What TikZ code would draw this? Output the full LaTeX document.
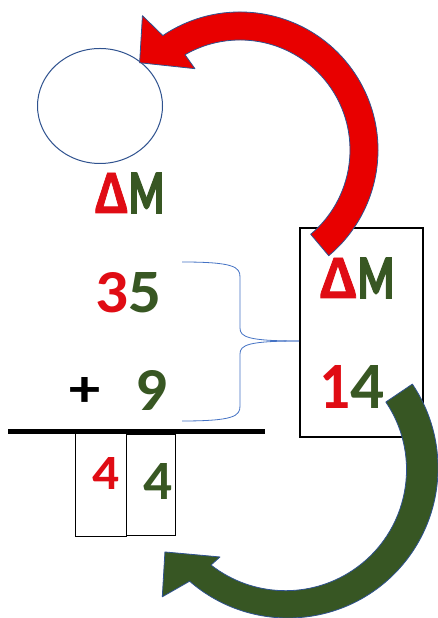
\documentclass[tikz,border=0pt]{standalone}
\usepackage{fontspec}
\setmainfont{Carlito}
\newfontface\fatface[FakeBold=3]{Carlito Bold}
\newfontface\semifat[FakeBold=1.2]{Carlito Bold}
\usepackage{graphicx}
\usetikzlibrary{shapes.geometric}
\definecolor{tred}{RGB}{224,12,20}
\definecolor{tgreen}{RGB}{56,87,35}
\definecolor{ared}{RGB}{232,0,0}
\definecolor{agreen}{RGB}{55,86,35}
\definecolor{edgeblue}{RGB}{47,82,143}
\definecolor{braceblue}{RGB}{68,114,196}
\newcommand\myglyph[4]{\resizebox{#1pt}{#2pt}{\textcolor{#3}{\bfseries #4}}}
\newcommand\fatglyph[4]{\resizebox{#1pt}{#2pt}{\textcolor{#3}{\fatface #4}}}
\newcommand\semiglyph[4]{\resizebox{#1pt}{#2pt}{\textcolor{#3}{\semifat #4}}}
\begin{document}
\begin{tikzpicture}[x=1pt,y=1pt,
  glyph/.style={inner sep=0pt, outer sep=0pt},
  frame/.style={draw=black, inner sep=0pt},
  bigarrow/.style={draw=edgeblue, line width=0.8pt, line join=round}]
\useasboundingbox (0,0) rectangle (438,618);
\fill[white] (0,0) rectangle (438,618);

% circle
\node[draw=edgeblue, line width=1pt, ellipse, minimum width=125pt, minimum height=115pt, inner sep=0pt] (circ) at (100,512) {};

% right box
\node[frame, line width=1.6pt, minimum width=123pt, minimum height=209pt] (dmbox) at (361.5,285.5) {};

% bar and result boxes
\coordinate (barL) at (8,186);
\coordinate (barR) at (265,186);
\draw[line width=5pt] (barL) -- (barR);
\node[frame, line width=1pt, minimum width=51pt, minimum height=105pt] (b1) at (100.5,133.5) {};
\node[frame, line width=1pt, minimum width=49pt, minimum height=104pt] (b2) at (150.5,134) {};
\fill[black] (b2.north west) rectangle ([yshift=-4pt]b2.north east);

% brace
\coordinate (brTop) at (182,356);
\coordinate (brBot) at (182,197);
\coordinate (brTip) at (dmbox.west |- 0,277);
\draw[braceblue, line width=0.8pt]
  (brTop) .. controls (234,356) and (240,351) .. (240,341) -- (240,290)
  .. controls (240,281) and (248,277) .. (brTip);
\draw[braceblue, line width=0.8pt]
  (brBot) .. controls (234,197) and (240,202) .. (240,212) -- (240,264)
  .. controls (240,273) and (248,277) .. (brTip);

% texts
\node[glyph] (dm1) at (129.5,425) {\semiglyph{34}{40}{tred}{Δ}\fatglyph{35}{40}{tgreen}{M}};
\node[glyph] (dm2) at (357,340) {\semiglyph{38}{40}{tred}{Δ}\fatglyph{36}{40}{tgreen}{M}};
\node[glyph] (n35) at (129,325) {\myglyph{33}{40}{tred}{3}\myglyph{33}{40}{tgreen}{5}};
\node[glyph] (n14) at (352.5,231.5) {\myglyph{31}{43}{tred}{1}\myglyph{34}{43}{tgreen}{4}};
\node[glyph] (plus) at (85,226) {\myglyph{31}{29}{black}{+}};
\node[glyph] (n9) at (152,228) {\myglyph{32}{40}{tgreen}{9}};
\node[glyph] (r4) at (105.5,144) {\myglyph{27}{32}{tred}{4}};
\node[glyph] (g4) at (157.5,137) {\myglyph{29}{36}{tgreen}{4}};

% red arrow
\begin{scope}[shift={(240,468)}]
\draw[bigarrow, fill=ared] (-50:110) arc[start angle=-50, end angle=120, radius=110]
  -- (119:93) -- (139:133) -- (126:166) -- (124:138)
  arc[start angle=124, end angle=-50, radius=138] -- cycle;
\end{scope}

% green arrow
\begin{scope}[shift={(288,150)}]
\draw[bigarrow, fill=agreen] (34:118) arc[start angle=34, end angle=-128, radius=121]
  -- (-127.4:112) -- (-145.7:149) -- (-134.3:180) -- (-131:150)
  arc[start angle=-131, end angle=34, radius=150] -- cycle;
\end{scope}
\end{tikzpicture}
\end{document}
